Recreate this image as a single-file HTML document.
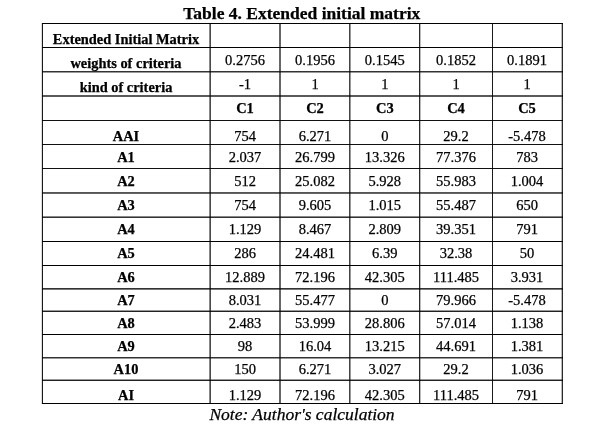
<!DOCTYPE html>
<html><head><meta charset="utf-8"><style>
html,body{margin:0;padding:0;background:#fff;}
body{width:600px;height:425px;position:relative;overflow:hidden;font-family:"Liberation Serif",serif;}
.t{position:absolute;text-align:center;white-space:nowrap;-webkit-text-stroke:0.25px #000;}
.l{position:absolute;mix-blend-mode:multiply;}
</style></head><body>
<div class="t" style="left:101.80px;top:5px;width:400px;font-size:17.5px;line-height:17.5px;font-weight:bold;font-style:normal;color:#000">Table 4. Extended initial matrix</div>
<div class="t" style="left:102.00px;top:406px;width:400px;font-size:17.5px;line-height:17.5px;font-weight:normal;font-style:italic;color:#000">Note: Author's calculation</div>
<div class="l" style="left:41px;top:23px;width:1px;height:381px;background:#ddd"></div>
<div class="l" style="left:42px;top:23px;width:1px;height:381px;background:#1a1a1a"></div>
<div class="l" style="left:209px;top:23px;width:1px;height:381px;background:#888"></div>
<div class="l" style="left:210px;top:23px;width:1px;height:381px;background:#4a4a4a"></div>
<div class="l" style="left:279px;top:23px;width:1px;height:381px;background:#666"></div>
<div class="l" style="left:280px;top:23px;width:1px;height:381px;background:#666"></div>
<div class="l" style="left:349px;top:23px;width:1px;height:381px;background:#444"></div>
<div class="l" style="left:350px;top:23px;width:1px;height:381px;background:#999"></div>
<div class="l" style="left:419px;top:23px;width:1px;height:381px;background:#2a2a2a"></div>
<div class="l" style="left:420px;top:23px;width:1px;height:381px;background:#bbb"></div>
<div class="l" style="left:492px;top:23px;width:1px;height:381px;background:#1a1a1a"></div>
<div class="l" style="left:561px;top:23px;width:1px;height:381px;background:#bbb"></div>
<div class="l" style="left:562px;top:23px;width:1px;height:381px;background:#2a2a2a"></div>
<div class="l" style="left:42px;top:23px;width:521px;height:1px;background:#000"></div>
<div class="l" style="left:42px;top:47px;width:521px;height:1px;background:#000"></div>
<div class="l" style="left:42px;top:71px;width:521px;height:1px;background:#333"></div>
<div class="l" style="left:42px;top:72px;width:521px;height:1px;background:#999"></div>
<div class="l" style="left:42px;top:95px;width:521px;height:1px;background:#5a5a5a"></div>
<div class="l" style="left:42px;top:96px;width:521px;height:1px;background:#5a5a5a"></div>
<div class="l" style="left:42px;top:120px;width:521px;height:1px;background:#111"></div>
<div class="l" style="left:42px;top:144px;width:521px;height:1px;background:#111"></div>
<div class="l" style="left:42px;top:168px;width:521px;height:1px;background:#111"></div>
<div class="l" style="left:42px;top:192px;width:521px;height:1px;background:#555"></div>
<div class="l" style="left:42px;top:193px;width:521px;height:1px;background:#666"></div>
<div class="l" style="left:42px;top:216px;width:521px;height:1px;background:#888"></div>
<div class="l" style="left:42px;top:217px;width:521px;height:1px;background:#333"></div>
<div class="l" style="left:42px;top:241px;width:521px;height:1px;background:#000"></div>
<div class="l" style="left:42px;top:265px;width:521px;height:1px;background:#000"></div>
<div class="l" style="left:42px;top:288px;width:521px;height:1px;background:#333"></div>
<div class="l" style="left:42px;top:289px;width:521px;height:1px;background:#777"></div>
<div class="l" style="left:42px;top:310px;width:521px;height:1px;background:#999"></div>
<div class="l" style="left:42px;top:311px;width:521px;height:1px;background:#222"></div>
<div class="l" style="left:42px;top:334px;width:521px;height:1px;background:#000"></div>
<div class="l" style="left:42px;top:357px;width:521px;height:1px;background:#333"></div>
<div class="l" style="left:42px;top:358px;width:521px;height:1px;background:#999"></div>
<div class="l" style="left:42px;top:379px;width:521px;height:1px;background:#999"></div>
<div class="l" style="left:42px;top:380px;width:521px;height:1px;background:#222"></div>
<div class="l" style="left:42px;top:403px;width:521px;height:1px;background:#000"></div>
<div class="t" style="left:42.00px;top:32px;width:168px;font-size:14.4px;line-height:14.4px;font-weight:bold;font-style:normal;color:#000">Extended Initial Matrix</div>
<div class="t" style="left:42.00px;top:56px;width:168px;font-size:14.4px;line-height:14.4px;font-weight:bold;font-style:normal;color:#000">weights of criteria</div>
<div class="t" style="left:210.00px;top:53px;width:70px;font-size:14.5px;line-height:14.5px;font-weight:normal;font-style:normal;color:#000">0.2756</div>
<div class="t" style="left:280.00px;top:53px;width:70px;font-size:14.5px;line-height:14.5px;font-weight:normal;font-style:normal;color:#000">0.1956</div>
<div class="t" style="left:349.80px;top:53px;width:70px;font-size:14.5px;line-height:14.5px;font-weight:normal;font-style:normal;color:#000">0.1545</div>
<div class="t" style="left:421.00px;top:53px;width:70px;font-size:14.5px;line-height:14.5px;font-weight:normal;font-style:normal;color:#000">0.1852</div>
<div class="t" style="left:492.00px;top:53px;width:70px;font-size:14.5px;line-height:14.5px;font-weight:normal;font-style:normal;color:#000">0.1891</div>
<div class="t" style="left:42.00px;top:80px;width:168px;font-size:14.4px;line-height:14.4px;font-weight:bold;font-style:normal;color:#000">kind of criteria</div>
<div class="t" style="left:210.00px;top:77px;width:70px;font-size:14.5px;line-height:14.5px;font-weight:normal;font-style:normal;color:#000">-1</div>
<div class="t" style="left:280.00px;top:77px;width:70px;font-size:14.5px;line-height:14.5px;font-weight:normal;font-style:normal;color:#000">1</div>
<div class="t" style="left:349.80px;top:77px;width:70px;font-size:14.5px;line-height:14.5px;font-weight:normal;font-style:normal;color:#000">1</div>
<div class="t" style="left:421.00px;top:77px;width:70px;font-size:14.5px;line-height:14.5px;font-weight:normal;font-style:normal;color:#000">1</div>
<div class="t" style="left:492.00px;top:77px;width:70px;font-size:14.5px;line-height:14.5px;font-weight:normal;font-style:normal;color:#000">1</div>
<div class="t" style="left:210.00px;top:101px;width:70px;font-size:14.5px;line-height:14.5px;font-weight:bold;font-style:normal;color:#000">C1</div>
<div class="t" style="left:280.00px;top:101px;width:70px;font-size:14.5px;line-height:14.5px;font-weight:bold;font-style:normal;color:#000">C2</div>
<div class="t" style="left:349.80px;top:101px;width:70px;font-size:14.5px;line-height:14.5px;font-weight:bold;font-style:normal;color:#000">C3</div>
<div class="t" style="left:421.00px;top:101px;width:70px;font-size:14.5px;line-height:14.5px;font-weight:bold;font-style:normal;color:#000">C4</div>
<div class="t" style="left:492.00px;top:101px;width:70px;font-size:14.5px;line-height:14.5px;font-weight:bold;font-style:normal;color:#000">C5</div>
<div class="t" style="left:42.00px;top:129px;width:168px;font-size:14.4px;line-height:14.4px;font-weight:bold;font-style:normal;color:#000">AAI</div>
<div class="t" style="left:210.00px;top:129px;width:70px;font-size:14.5px;line-height:14.5px;font-weight:normal;font-style:normal;color:#000">754</div>
<div class="t" style="left:280.00px;top:129px;width:70px;font-size:14.5px;line-height:14.5px;font-weight:normal;font-style:normal;color:#000">6.271</div>
<div class="t" style="left:349.80px;top:129px;width:70px;font-size:14.5px;line-height:14.5px;font-weight:normal;font-style:normal;color:#000">0</div>
<div class="t" style="left:421.00px;top:129px;width:70px;font-size:14.5px;line-height:14.5px;font-weight:normal;font-style:normal;color:#000">29.2</div>
<div class="t" style="left:492.00px;top:129px;width:70px;font-size:14.5px;line-height:14.5px;font-weight:normal;font-style:normal;color:#000">-5.478</div>
<div class="t" style="left:42.00px;top:150px;width:168px;font-size:14.4px;line-height:14.4px;font-weight:bold;font-style:normal;color:#000">A1</div>
<div class="t" style="left:210.00px;top:150px;width:70px;font-size:14.5px;line-height:14.5px;font-weight:normal;font-style:normal;color:#000">2.037</div>
<div class="t" style="left:280.00px;top:150px;width:70px;font-size:14.5px;line-height:14.5px;font-weight:normal;font-style:normal;color:#000">26.799</div>
<div class="t" style="left:349.80px;top:150px;width:70px;font-size:14.5px;line-height:14.5px;font-weight:normal;font-style:normal;color:#000">13.326</div>
<div class="t" style="left:421.00px;top:150px;width:70px;font-size:14.5px;line-height:14.5px;font-weight:normal;font-style:normal;color:#000">77.376</div>
<div class="t" style="left:492.00px;top:150px;width:70px;font-size:14.5px;line-height:14.5px;font-weight:normal;font-style:normal;color:#000">783</div>
<div class="t" style="left:42.00px;top:174px;width:168px;font-size:14.4px;line-height:14.4px;font-weight:bold;font-style:normal;color:#000">A2</div>
<div class="t" style="left:210.00px;top:174px;width:70px;font-size:14.5px;line-height:14.5px;font-weight:normal;font-style:normal;color:#000">512</div>
<div class="t" style="left:280.00px;top:174px;width:70px;font-size:14.5px;line-height:14.5px;font-weight:normal;font-style:normal;color:#000">25.082</div>
<div class="t" style="left:349.80px;top:174px;width:70px;font-size:14.5px;line-height:14.5px;font-weight:normal;font-style:normal;color:#000">5.928</div>
<div class="t" style="left:421.00px;top:174px;width:70px;font-size:14.5px;line-height:14.5px;font-weight:normal;font-style:normal;color:#000">55.983</div>
<div class="t" style="left:492.00px;top:174px;width:70px;font-size:14.5px;line-height:14.5px;font-weight:normal;font-style:normal;color:#000">1.004</div>
<div class="t" style="left:42.00px;top:198px;width:168px;font-size:14.4px;line-height:14.4px;font-weight:bold;font-style:normal;color:#000">A3</div>
<div class="t" style="left:210.00px;top:198px;width:70px;font-size:14.5px;line-height:14.5px;font-weight:normal;font-style:normal;color:#000">754</div>
<div class="t" style="left:280.00px;top:198px;width:70px;font-size:14.5px;line-height:14.5px;font-weight:normal;font-style:normal;color:#000">9.605</div>
<div class="t" style="left:349.80px;top:198px;width:70px;font-size:14.5px;line-height:14.5px;font-weight:normal;font-style:normal;color:#000">1.015</div>
<div class="t" style="left:421.00px;top:198px;width:70px;font-size:14.5px;line-height:14.5px;font-weight:normal;font-style:normal;color:#000">55.487</div>
<div class="t" style="left:492.00px;top:198px;width:70px;font-size:14.5px;line-height:14.5px;font-weight:normal;font-style:normal;color:#000">650</div>
<div class="t" style="left:42.00px;top:222px;width:168px;font-size:14.4px;line-height:14.4px;font-weight:bold;font-style:normal;color:#000">A4</div>
<div class="t" style="left:210.00px;top:222px;width:70px;font-size:14.5px;line-height:14.5px;font-weight:normal;font-style:normal;color:#000">1.129</div>
<div class="t" style="left:280.00px;top:222px;width:70px;font-size:14.5px;line-height:14.5px;font-weight:normal;font-style:normal;color:#000">8.467</div>
<div class="t" style="left:349.80px;top:222px;width:70px;font-size:14.5px;line-height:14.5px;font-weight:normal;font-style:normal;color:#000">2.809</div>
<div class="t" style="left:421.00px;top:222px;width:70px;font-size:14.5px;line-height:14.5px;font-weight:normal;font-style:normal;color:#000">39.351</div>
<div class="t" style="left:492.00px;top:222px;width:70px;font-size:14.5px;line-height:14.5px;font-weight:normal;font-style:normal;color:#000">791</div>
<div class="t" style="left:42.00px;top:246px;width:168px;font-size:14.4px;line-height:14.4px;font-weight:bold;font-style:normal;color:#000">A5</div>
<div class="t" style="left:210.00px;top:246px;width:70px;font-size:14.5px;line-height:14.5px;font-weight:normal;font-style:normal;color:#000">286</div>
<div class="t" style="left:280.00px;top:246px;width:70px;font-size:14.5px;line-height:14.5px;font-weight:normal;font-style:normal;color:#000">24.481</div>
<div class="t" style="left:349.80px;top:246px;width:70px;font-size:14.5px;line-height:14.5px;font-weight:normal;font-style:normal;color:#000">6.39</div>
<div class="t" style="left:421.00px;top:246px;width:70px;font-size:14.5px;line-height:14.5px;font-weight:normal;font-style:normal;color:#000">32.38</div>
<div class="t" style="left:492.00px;top:246px;width:70px;font-size:14.5px;line-height:14.5px;font-weight:normal;font-style:normal;color:#000">50</div>
<div class="t" style="left:42.00px;top:270px;width:168px;font-size:14.4px;line-height:14.4px;font-weight:bold;font-style:normal;color:#000">A6</div>
<div class="t" style="left:210.00px;top:270px;width:70px;font-size:14.5px;line-height:14.5px;font-weight:normal;font-style:normal;color:#000">12.889</div>
<div class="t" style="left:280.00px;top:270px;width:70px;font-size:14.5px;line-height:14.5px;font-weight:normal;font-style:normal;color:#000">72.196</div>
<div class="t" style="left:349.80px;top:270px;width:70px;font-size:14.5px;line-height:14.5px;font-weight:normal;font-style:normal;color:#000">42.305</div>
<div class="t" style="left:421.00px;top:270px;width:70px;font-size:14.5px;line-height:14.5px;font-weight:normal;font-style:normal;color:#000">111.485</div>
<div class="t" style="left:492.00px;top:270px;width:70px;font-size:14.5px;line-height:14.5px;font-weight:normal;font-style:normal;color:#000">3.931</div>
<div class="t" style="left:42.00px;top:293px;width:168px;font-size:14.4px;line-height:14.4px;font-weight:bold;font-style:normal;color:#000">A7</div>
<div class="t" style="left:210.00px;top:293px;width:70px;font-size:14.5px;line-height:14.5px;font-weight:normal;font-style:normal;color:#000">8.031</div>
<div class="t" style="left:280.00px;top:293px;width:70px;font-size:14.5px;line-height:14.5px;font-weight:normal;font-style:normal;color:#000">55.477</div>
<div class="t" style="left:349.80px;top:293px;width:70px;font-size:14.5px;line-height:14.5px;font-weight:normal;font-style:normal;color:#000">0</div>
<div class="t" style="left:421.00px;top:293px;width:70px;font-size:14.5px;line-height:14.5px;font-weight:normal;font-style:normal;color:#000">79.966</div>
<div class="t" style="left:492.00px;top:293px;width:70px;font-size:14.5px;line-height:14.5px;font-weight:normal;font-style:normal;color:#000">-5.478</div>
<div class="t" style="left:42.00px;top:316px;width:168px;font-size:14.4px;line-height:14.4px;font-weight:bold;font-style:normal;color:#000">A8</div>
<div class="t" style="left:210.00px;top:316px;width:70px;font-size:14.5px;line-height:14.5px;font-weight:normal;font-style:normal;color:#000">2.483</div>
<div class="t" style="left:280.00px;top:316px;width:70px;font-size:14.5px;line-height:14.5px;font-weight:normal;font-style:normal;color:#000">53.999</div>
<div class="t" style="left:349.80px;top:316px;width:70px;font-size:14.5px;line-height:14.5px;font-weight:normal;font-style:normal;color:#000">28.806</div>
<div class="t" style="left:421.00px;top:316px;width:70px;font-size:14.5px;line-height:14.5px;font-weight:normal;font-style:normal;color:#000">57.014</div>
<div class="t" style="left:492.00px;top:316px;width:70px;font-size:14.5px;line-height:14.5px;font-weight:normal;font-style:normal;color:#000">1.138</div>
<div class="t" style="left:42.00px;top:339px;width:168px;font-size:14.4px;line-height:14.4px;font-weight:bold;font-style:normal;color:#000">A9</div>
<div class="t" style="left:210.00px;top:339px;width:70px;font-size:14.5px;line-height:14.5px;font-weight:normal;font-style:normal;color:#000">98</div>
<div class="t" style="left:280.00px;top:339px;width:70px;font-size:14.5px;line-height:14.5px;font-weight:normal;font-style:normal;color:#000">16.04</div>
<div class="t" style="left:349.80px;top:339px;width:70px;font-size:14.5px;line-height:14.5px;font-weight:normal;font-style:normal;color:#000">13.215</div>
<div class="t" style="left:421.00px;top:339px;width:70px;font-size:14.5px;line-height:14.5px;font-weight:normal;font-style:normal;color:#000">44.691</div>
<div class="t" style="left:492.00px;top:339px;width:70px;font-size:14.5px;line-height:14.5px;font-weight:normal;font-style:normal;color:#000">1.381</div>
<div class="t" style="left:42.00px;top:362px;width:168px;font-size:14.4px;line-height:14.4px;font-weight:bold;font-style:normal;color:#000">A10</div>
<div class="t" style="left:210.00px;top:362px;width:70px;font-size:14.5px;line-height:14.5px;font-weight:normal;font-style:normal;color:#000">150</div>
<div class="t" style="left:280.00px;top:362px;width:70px;font-size:14.5px;line-height:14.5px;font-weight:normal;font-style:normal;color:#000">6.271</div>
<div class="t" style="left:349.80px;top:362px;width:70px;font-size:14.5px;line-height:14.5px;font-weight:normal;font-style:normal;color:#000">3.027</div>
<div class="t" style="left:421.00px;top:362px;width:70px;font-size:14.5px;line-height:14.5px;font-weight:normal;font-style:normal;color:#000">29.2</div>
<div class="t" style="left:492.00px;top:362px;width:70px;font-size:14.5px;line-height:14.5px;font-weight:normal;font-style:normal;color:#000">1.036</div>
<div class="t" style="left:42.00px;top:388px;width:168px;font-size:14.4px;line-height:14.4px;font-weight:bold;font-style:normal;color:#000">AI</div>
<div class="t" style="left:210.00px;top:388px;width:70px;font-size:14.5px;line-height:14.5px;font-weight:normal;font-style:normal;color:#000">1.129</div>
<div class="t" style="left:280.00px;top:388px;width:70px;font-size:14.5px;line-height:14.5px;font-weight:normal;font-style:normal;color:#000">72.196</div>
<div class="t" style="left:349.80px;top:388px;width:70px;font-size:14.5px;line-height:14.5px;font-weight:normal;font-style:normal;color:#000">42.305</div>
<div class="t" style="left:421.00px;top:388px;width:70px;font-size:14.5px;line-height:14.5px;font-weight:normal;font-style:normal;color:#000">111.485</div>
<div class="t" style="left:492.00px;top:388px;width:70px;font-size:14.5px;line-height:14.5px;font-weight:normal;font-style:normal;color:#000">791</div>
</body></html>
